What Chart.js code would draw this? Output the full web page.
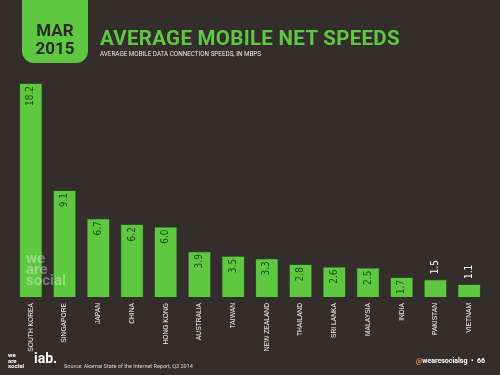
<!DOCTYPE html>
<html>
<head>
<meta charset="utf-8">
<script src="https://cdn.jsdelivr.net/npm/chart.js"></script>
<style>
  html, body { margin: 0; padding: 0; }
  body { width: 500px; height: 375px; background: #332e2c; position: relative; overflow: hidden; font-family: Roboto, "Liberation Sans", sans-serif; }
  #wrap { position: absolute; left: 0; top: 0; width: 500px; height: 375px; }
  .datebox { position: absolute; left: 22px; top: -20px; width: 66px; height: 83px; background: #5ec940; border-radius: 12px; }
  .datebox div { position: absolute; left: 0; width: 66px; text-align: center; color: #2b2b2b; font-weight: 700; font-size: 17px; line-height: 17px; }
  .title { position: absolute; left: 100px; top: 26px; color: #5ec940; font-weight: 700; font-size: 20.5px; letter-spacing: 0.3px; white-space: nowrap; }
  .sub { position: absolute; left: 100px; top: 50px; color: #e8e8e8; font-size: 6.3px; white-space: nowrap; }
  .wm { position: absolute; left: 26px; top: 253px; color: rgba(255,255,255,0.35); font-weight: 700; font-size: 15px; line-height: 11px; }
  .logo1 { position: absolute; left: 8px; top: 352px; color: #fff; font-weight: 700; font-size: 6px; line-height: 5.5px; }
  .logo2 { position: absolute; left: 34px; top: 350px; color: #fff; font-weight: 700; font-size: 14px; }
  .src { position: absolute; left: 64px; top: 363px; color: #d8d8d8; font-size: 5.5px; white-space: nowrap; }
  .handle { position: absolute; left: 416px; top: 357px; color: #fff; font-weight: 700; font-size: 7px; white-space: nowrap; }
  .handle span { color: #e0a030; }
</style>
</head>
<body>
<div id="wrap"><canvas id="myChart" width="500" height="375"></canvas></div>
<div class="datebox"><div style="top:42px">MAR</div><div style="top:60px">2015</div></div>
<div class="title">AVERAGE MOBILE NET SPEEDS</div>
<div class="sub">AVERAGE MOBILE DATA CONNECTION SPEEDS, IN MBPS</div>
<div class="wm">we<br>are<br>social</div>
<div class="logo1">we<br>are<br>social</div>
<div class="logo2">iab.</div>
<div class="src">Source: Akamai State of the Internet Report, Q3 2014</div>
<div class="handle"><span>@</span>wearesocialsg &nbsp;•&nbsp; 66</div>
<script>
var countries = ["SOUTH KOREA", "SINGAPORE", "JAPAN", "CHINA", "HONG KONG", "AUSTRALIA", "TAIWAN",
    "NEW ZEALAND", "THAILAND", "SRI LANKA", "MALAYSIA", "INDIA", "PAKISTAN", "VIETNAM"];
var speeds = [18.2, 9.1, 6.7, 6.2, 6.0, 3.9, 3.5, 3.3, 2.8, 2.6, 2.5, 1.7, 1.5, 1.1];

// 막대 위 값 표시 (세로 글씨)
var valueLabels = {
    id: 'valueLabels',
    afterDatasetsDraw: function (chart) {
        var ctx = chart.ctx;
        var meta = chart.getDatasetMeta(0);
        ctx.save();
        ctx.font = '10px "DejaVu Sans Condensed", "Liberation Sans Narrow", sans-serif';
        ctx.textBaseline = 'middle';
        meta.data.forEach(function (bar, i) {
            var v = speeds[i];
            var txt = v.toFixed(1);
            ctx.save();
            if (v < 1.6) {
                ctx.translate(bar.x, bar.y - 5);
                ctx.rotate(-Math.PI / 2);
                ctx.textAlign = 'left';
                ctx.fillStyle = '#ffffff';
            } else {
                ctx.translate(bar.x, bar.y + 3);
                ctx.rotate(-Math.PI / 2);
                ctx.textAlign = 'right';
                ctx.fillStyle = '#1e4a12';
            }
            ctx.fillText(txt, 0, 0);
            ctx.restore();
        });
        ctx.restore();
    }
};

var ctx = document.getElementById("myChart").getContext('2d');
var myChart = new Chart(ctx, {
    type: 'bar',
    data: {
        labels: countries,
        datasets: [{
            data: speeds,
            backgroundColor: '#5ec940',
            borderColor: '#2d4d20',
            borderWidth: 1,
            barPercentage: 0.7,
            categoryPercentage: 1
        }]
    },
    options: {
        responsive: false,
        animation: false,
        layout: { padding: { top: 83, left: 14, right: 14, bottom: 0 } },
        plugins: {
            legend: { display: false },
            tooltip: { enabled: false }
        },
        scales: {
            x: {
                grid: { display: false, drawTicks: false },
                border: { display: false },
                afterFit: function (scale) { scale.height = 78; },
                ticks: {
                    color: '#f2f2f2',
                    font: { size: 6.7, family: '"Liberation Sans", Arial, sans-serif' },
                    autoSkip: false,
                    maxRotation: 90,
                    minRotation: 90,
                    padding: 6
                }
            },
            y: {
                display: false,
                min: 0,
                max: 18.2
            }
        }
    },
    plugins: [valueLabels]
});
</script>
</body>
</html>
